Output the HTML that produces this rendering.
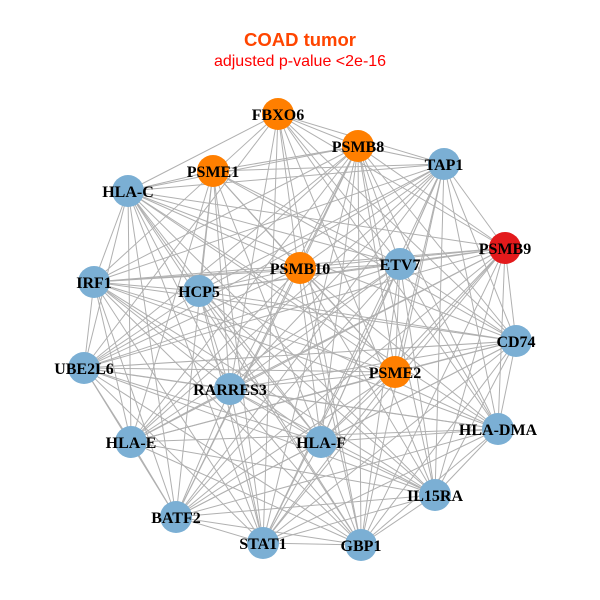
<!DOCTYPE html>
<html><head><meta charset="utf-8"><style>
html,body{margin:0;padding:0;background:#fff;width:600px;height:600px;overflow:hidden}
svg{display:block}
.l{font-family:"Liberation Serif",serif;font-weight:bold;font-size:16px;fill:#000;text-anchor:middle}
</style></head><body>
<svg id="s" width="600" height="600" viewBox="0 0 600 600">
<text x="300" y="46" text-anchor="middle" font-family="Liberation Sans,sans-serif" font-weight="bold" font-size="18.5" fill="#FF4500">COAD tumor</text>
<text x="300" y="66" text-anchor="middle" font-family="Liberation Sans,sans-serif" font-size="16" fill="#FF0000">adjusted p-value &lt;2e-16</text>
<g id="e" stroke="#b0b0b0" stroke-width="1"></g>
<g id="n"></g>
<g id="t">
<text class="l" x="278" y="120">FBXO6</text>
<text class="l" x="358" y="152">PSMB8</text>
<text class="l" x="444" y="170">TAP1</text>
<text class="l" x="213" y="177">PSME1</text>
<text class="l" x="128" y="197">HLA-C</text>
<text class="l" x="505" y="254">PSMB9</text>
<text class="l" x="300" y="274">PSMB10</text>
<text class="l" x="400" y="270">ETV7</text>
<text class="l" x="94" y="288">IRF1</text>
<text class="l" x="199" y="297">HCP5</text>
<text class="l" x="516" y="347">CD74</text>
<text class="l" x="84" y="374">UBE2L6</text>
<text class="l" x="395" y="378">PSME2</text>
<text class="l" x="230" y="395">RARRES3</text>
<text class="l" x="498" y="435">HLA-DMA</text>
<text class="l" x="131" y="448">HLA-E</text>
<text class="l" x="321" y="448">HLA-F</text>
<text class="l" x="435" y="501">IL15RA</text>
<text class="l" x="176" y="523">BATF2</text>
<text class="l" x="263" y="549">STAT1</text>
<text class="l" x="361" y="551">GBP1</text>
</g>
</svg>
<script>
var N=[[278,114,'o'],[358,146,'o'],[444,164,'b'],[213,171,'o'],[128,191,'b'],[505,248,'r'],[300,268,'o'],[400,264,'b'],[94,282,'b'],[199,291,'b'],[516,341,'b'],[84,368,'b'],[395,372,'o'],[230,389,'b'],[498,429,'b'],[131,442,'b'],[321,442,'b'],[435,495,'b'],[176,517,'b'],[263,543,'b'],[361,545,'b']];
var C={o:'#FF7F00',b:'#7BAFD4',r:'#E31A1C'};
var ns='http://www.w3.org/2000/svg',e=document.getElementById('e'),g=document.getElementById('n');
for(var i=0;i<N.length;i++)for(var j=i+1;j<N.length;j++){if((i*7+j*3)%9==0)continue;var l=document.createElementNS(ns,'line');l.setAttribute('x1',N[i][0]);l.setAttribute('y1',N[i][1]);l.setAttribute('x2',N[j][0]);l.setAttribute('y2',N[j][1]);e.appendChild(l);}
N.forEach(function(p){var c=document.createElementNS(ns,'circle');c.setAttribute('cx',p[0]);c.setAttribute('cy',p[1]);c.setAttribute('r',16);c.setAttribute('fill',C[p[2]]);g.appendChild(c);});
</script>
</body></html>
